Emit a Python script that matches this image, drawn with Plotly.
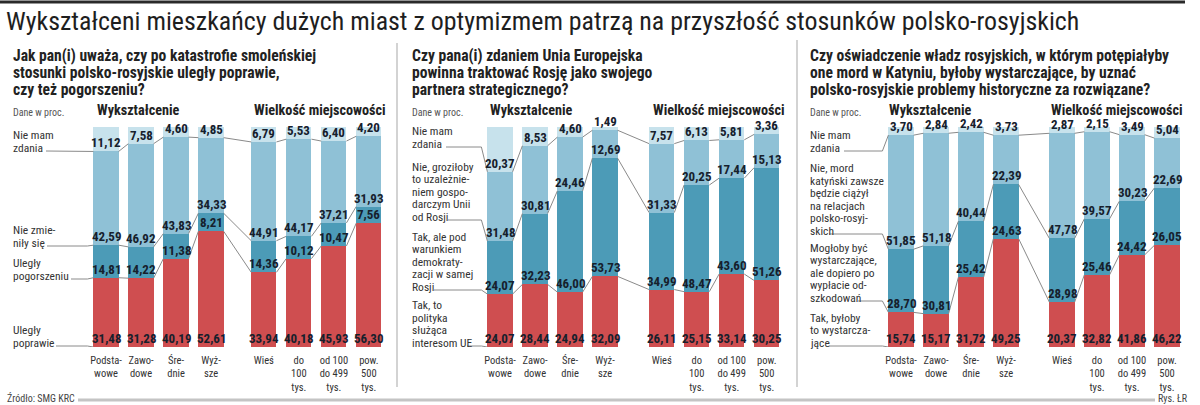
import plotly.graph_objects as go

W, H = 1200, 405

# ---------------- data ----------------
categories = ["Podsta-<br>wowe", "Zawo-<br>dowe", "Śre-<br>dnie", "Wyż-<br>sze", "Wieś",
              "do<br>100<br>tys.", "od 100<br>do 499<br>tys.", "pow.<br>500<br>tys."]

# Panel 1: Czy stosunki uległy poprawie...
p1_poprawie = [31.48, 31.28, 40.19, 52.61, 33.94, 40.18, 45.93, 56.30]
p1_pogorszeniu = [14.81, 14.22, 11.38, 8.21, 14.36, 10.12, 10.47, 7.56]
p1_bez_zmian = [42.59, 46.92, 43.83, 34.33, 44.91, 44.17, 37.21, 31.93]
p1_nie_wiem = [11.12, 7.58, 4.60, 4.85, 6.79, 5.53, 6.40, 4.20]

# Panel 2: UE i Rosja jako partner strategiczny
p2_tak = [24.07, 28.44, 24.94, 32.09, 26.11, 25.15, 33.14, 30.25]
p2_tak_warunek = [24.07, 32.23, 46.00, 53.73, 34.99, 48.47, 43.60, 51.26]
p2_nie = [31.48, 30.81, 24.46, 12.69, 31.33, 20.25, 17.44, 15.13]
p2_nie_wiem = [20.37, 8.53, 4.60, 1.49, 7.57, 6.13, 5.81, 3.36]

# Panel 3: Oświadczenie w sprawie Katynia
p3_tak = [15.74, 15.17, 31.72, 49.25, 20.37, 32.82, 41.86, 46.22]
p3_odszkodowania = [28.70, 30.81, 25.42, 24.63, 28.98, 25.46, 24.42, 26.05]
p3_nie = [51.85, 51.18, 40.44, 22.39, 47.78, 39.57, 30.23, 22.69]
p3_nie_wiem = [3.70, 2.84, 2.42, 3.73, 2.87, 2.15, 3.49, 5.04]

title_text = "Wykształceni mieszkańcy dużych miast z optymizmem patrzą na przyszłość stosunków polsko-rosyjskich"

p1_question = ["Jak pan(i) uważa, czy po katastrofie smoleńskiej",
               "stosunki polsko-rosyjskie uległy poprawie,",
               "czy też pogorszeniu?"]
p2_question = ["Czy pana(i) zdaniem Unia Europejska",
               "powinna traktować Rosję jako swojego",
               "partnera strategicznego?"]
p3_question = ["Czy oświadczenie władz rosyjskich, w którym potępiałyby",
               "one mord w Katyniu, byłoby wystarczające, by uznać",
               "polsko-rosyjskie problemy historyczne za rozwiązane?"]

p1_labels = [["Uległy", "poprawie"], ["Uległy", "pogorszeniu"],
             ["Nie zmie-", "niły się"], ["Nie mam", "zdania"]]
p2_labels = [["Tak, to", "polityka", "służąca", "interesom UE"],
             ["Tak, ale pod", "warunkiem", "demokraty-", "zacji w samej", "Rosji"],
             ["Nie, groziłoby", "to uzależnie-", "niem gospo-", "darczym Unii", "od Rosji"],
             ["Nie mam", "zdania"]]
p3_labels = [["Tak, byłoby", "to wystarcza-", "jące"],
             ["Mogłoby być", "wystarczające,", "ale dopiero po", "wypłacie od-", "szkodowań"],
             ["Nie, mord", "katyński zawsze", "będzie ciążył", "na relacjach", "polsko-rosyj-", "skich"],
             ["Nie mam", "zdania"]]

group_titles = ["Wykształcenie", "Wielkość miejscowości"]
units_note = "Dane w proc."
source_note = "Źródło: SMG KRC"
credit_note = "Rys. ŁR"

# ---------------- style / layout ----------------
colors = ["#cf4e50", "#4c9bb7", "#8fc1d6", "#c7e2ec"]
NARROW = "Liberation Sans Narrow, Arial Narrow, Roboto Condensed, Roboto, sans-serif"
TXT = "#222222"
VAL = "#16202c"

UNIT = 35.0            # px per category step
Y_TOP, Y_BOT = 127.0, 347.0
PX_PER_PCT = (Y_BOT - Y_TOP) / 100.0
BAR_W = 0.72

panels = [
    dict(series=[p1_poprawie, p1_pogorszeniu, p1_bez_zmian, p1_nie_wiem], labels=p1_labels,
         question=p1_question, c0=106, gap=4.51, left=11, qy=[56, 73, 90],
         label_lines=[343, 276, 243, 148], label_ends=[53, 68, 44, 43],
         groups=[95, 252]),
    dict(series=[p2_tak, p2_tak_warunek, p2_nie, p2_nie_wiem], labels=p2_labels,
         question=p2_question, c0=500, gap=4.62, left=410, qy=[56, 73, 90],
         label_lines=[343, 287, 217, 144], label_ends=[464, 431, 445, 443],
         groups=[488, 651]),
    dict(series=[p3_tak, p3_odszkodowania, p3_nie, p3_nie_wiem], labels=p3_labels,
         question=p3_question, c0=901, gap=4.6, left=808, qy=[56, 73, 90],
         label_lines=[343, 298, 231, 148], label_ends=[826, 855, 826, 841],
         groups=[887, 1049]),
]


def px_x(px):
    return px / W


def px_y(py):
    return 1 - py / H


fig = go.Figure()
annotations = []
axis_names = ["x", "x2", "x3"]

for pi, P in enumerate(panels):
    ax = axis_names[pi]
    pos = [0, 1, 2, 3, P["gap"], P["gap"] + 1, P["gap"] + 2, P["gap"] + 3]
    c0 = P["c0"]
    # stacked bars
    for k, vals in enumerate(P["series"]):
        fig.add_trace(go.Bar(x=pos, y=vals, width=BAR_W, marker=dict(color=colors[k], line=dict(width=0)),
                             xaxis=ax, yaxis="y", showlegend=False, hoverinfo="skip"))
    # cumulative boundaries
    n = len(pos)
    cum = [[0.0] * n]
    for k, vals in enumerate(P["series"]):
        cum.append([cum[-1][i] + vals[i] for i in range(n)])
    # connector lines between bars
    lx, ly = [], []
    for k in (1, 2, 3):
        for i in range(n - 1):
            lx += [pos[i] + BAR_W / 2, pos[i + 1] - BAR_W / 2, None]
            ly += [cum[k][i], cum[k][i + 1], None]
    # leader lines from left labels
    for k in range(4):
        yl = P["label_lines"][k] + 3
        x_start = (P["label_ends"][k] + 3 - c0) / UNIT
        x_mid = (c0 - 12.6 - 6 - c0) / UNIT
        x_bar = pos[0] - BAR_W / 2
        yd = (Y_BOT - yl) / PX_PER_PCT
        lx += [x_start, x_mid, x_bar, None]
        ly += [yd, yd, cum[k][0], None]
    fig.add_trace(go.Scatter(x=lx, y=ly, mode="lines", line=dict(color="#8a8a8a", width=1),
                             xaxis=ax, yaxis="y", showlegend=False, hoverinfo="skip"))
    # value labels
    for k, vals in enumerate(P["series"]):
        for i in range(n):
            annotations.append(dict(x=pos[i], y=cum[k][i], xref=ax, yref="y", text=f"{vals[i]:.2f}".replace(".", ","),
                                    showarrow=False, yanchor="bottom", xanchor="center", yshift=-1,
                                    font=dict(family=NARROW, size=13, color=VAL, weight="bold")))
    # left labels, one annotation per line
    for k, lines in enumerate(P["labels"]):
        last = P["label_lines"][k]
        sp = 12.6
        for j, line in enumerate(lines):
            cy = last - (len(lines) - 1 - j) * sp
            annotations.append(dict(x=px_x(P["left"]), y=px_y(cy), xref="paper", yref="paper", text=line,
                                    showarrow=False, xanchor="left", yanchor="middle",
                                    font=dict(family=NARROW, size=11.5, color="#333333")))
    # question
    for j, line in enumerate(P["question"]):
        annotations.append(dict(x=px_x(P["left"]), y=px_y(P["qy"][j]), xref="paper", yref="paper", text=line,
                                showarrow=False, xanchor="left", yanchor="middle",
                                font=dict(family=NARROW, size=15.6, color=TXT, weight="bold")))
    annotations.append(dict(x=px_x(P["left"]), y=px_y(112), xref="paper", yref="paper", text=units_note,
                            showarrow=False, xanchor="left", yanchor="middle",
                            font=dict(family=NARROW, size=10, color="#555555")))
    for g, gx in enumerate(P["groups"]):
        annotations.append(dict(x=px_x(gx), y=px_y(110), xref="paper", yref="paper", text=group_titles[g],
                                showarrow=False, xanchor="left", yanchor="middle",
                                font=dict(family=NARROW, size=14.2, color=TXT, weight="bold")))

# main title and footer
annotations.append(dict(x=px_x(4), y=px_y(21), xref="paper", yref="paper", text=title_text, showarrow=False,
                        xanchor="left", yanchor="middle", font=dict(family=NARROW, size=25.9, color="#1e1e1e")))
annotations.append(dict(x=px_x(5), y=px_y(398), xref="paper", yref="paper", text=source_note, showarrow=False,
                        xanchor="left", yanchor="middle", font=dict(family=NARROW, size=10, color="#444444")))
annotations.append(dict(x=px_x(1190), y=px_y(398.5), xref="paper", yref="paper", text=credit_note, showarrow=False,
                        xanchor="right", yanchor="middle", font=dict(family=NARROW, size=10, color="#444444")))

shapes = [
    dict(type="line", xref="paper", yref="paper", x0=0, x1=px_x(1185), y0=px_y(2), y1=px_y(2),
         line=dict(color="#2a2a2a", width=3)),
    dict(type="line", xref="paper", yref="paper", x0=px_x(397), x1=px_x(397), y0=px_y(43), y1=px_y(387),
         line=dict(color="#c4c4c4", width=1.5)),
    dict(type="line", xref="paper", yref="paper", x0=px_x(797), x1=px_x(797), y0=px_y(40), y1=px_y(387),
         line=dict(color="#c4c4c4", width=1.5)),
    dict(type="line", xref="paper", yref="paper", x0=px_x(78), x1=px_x(1155), y0=px_y(400), y1=px_y(400),
         line=dict(color="#c4c4c4", width=3)),
]

layout_axes = {}
for pi, P in enumerate(panels):
    pos = [0, 1, 2, 3, P["gap"], P["gap"] + 1, P["gap"] + 2, P["gap"] + 3]
    c0 = P["c0"]
    key = "xaxis" if pi == 0 else f"xaxis{pi + 1}"
    ax = dict(domain=[0, 1], range=[-c0 / UNIT, (W - c0) / UNIT], anchor="y",
              tickvals=pos, ticktext=categories, ticks="", showgrid=False, zeroline=False, showline=False,
              ticklabelstandoff=5,
              tickfont=dict(family=NARROW, size=10.5, color="#333333"), fixedrange=True)
    if pi > 0:
        ax["overlaying"] = "x"
    layout_axes[key] = ax

fig.update_layout(
    width=W, height=H, margin=dict(l=0, r=0, t=0, b=0),
    paper_bgcolor="white", plot_bgcolor="rgba(0,0,0,0)",
    barmode="stack", bargap=0,
    yaxis=dict(domain=[1 - Y_BOT / H, 1 - Y_TOP / H], range=[0, 100], visible=False, fixedrange=True),
    annotations=annotations, shapes=shapes,
    **layout_axes,
)

fig.write_html("out.html")
